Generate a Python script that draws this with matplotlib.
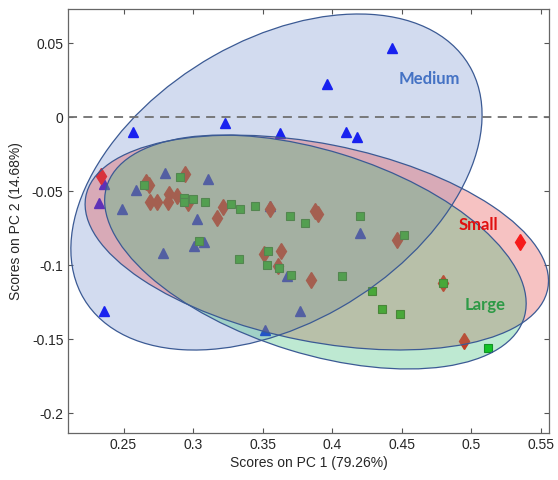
import numpy as np
import matplotlib
matplotlib.use('Agg')
import matplotlib.pyplot as plt
from matplotlib.patches import Ellipse

# Medium (blue triangles)
medium_x = [0.443, 0.396, 0.323, 0.257, 0.3625, 0.410, 0.418, 0.280, 0.3108, 0.2363,
            0.2592, 0.2327, 0.249, 0.355, 0.303, 0.3005, 0.308, 0.2784, 0.2359, 0.352,
            0.3767, 0.3678, 0.420]
medium_y = [0.047, 0.0225, -0.0036, -0.010, -0.0104, -0.0101, -0.0131, -0.0378, -0.0419, -0.045,
            -0.049, -0.058, -0.0622, -0.0597, -0.0685, -0.087, -0.0845, -0.0919, -0.1307, -0.1437,
            -0.1307, -0.107, -0.0784]

# Small (red diamonds)
small_x = [0.2337, 0.2661, 0.2685, 0.294, 0.2687, 0.274, 0.2824, 0.2885, 0.282, 0.2964,
           0.3217, 0.3173, 0.355, 0.388, 0.390, 0.4464, 0.351, 0.3635, 0.361, 0.385,
           0.5353, 0.480, 0.4947]
small_y = [-0.0395, -0.0435, -0.0457, -0.0383, -0.057, -0.0574, -0.052, -0.053, -0.0574, -0.0577,
           -0.0604, -0.0678, -0.0616, -0.0633, -0.0655, -0.0829, -0.0926, -0.0901, -0.1005, -0.110,
           -0.0843, -0.1117, -0.151]

# Large (green squares)
large_x = [0.2649, 0.2909, 0.2938, 0.2933, 0.2998, 0.3084, 0.3274, 0.3341, 0.3445, 0.3697,
           0.3805, 0.420, 0.4517, 0.304, 0.3334, 0.3538, 0.3534, 0.3618, 0.3707, 0.407,
           0.4288, 0.4358, 0.4488, 0.4796, 0.512]
large_y = [-0.0457, -0.0401, -0.0547, -0.057, -0.0554, -0.057, -0.0586, -0.062, -0.0597, -0.0665,
           -0.0716, -0.0669, -0.0795, -0.0834, -0.0955, -0.0901, -0.100, -0.102, -0.1066, -0.1072,
           -0.1172, -0.1295, -0.1329, -0.1122, -0.1557]

# confidence ellipses: Medium, Small, Large
ell_cx = [0.360, 0.389, 0.388]
ell_cy = [-0.0437, -0.0846, -0.0910]
ell_w = [0.319, 0.338, 0.313]
ell_h = [0.193, 0.1337, 0.1375]
ell_ang = [28.1, -10.5, -16.1]
ell_fill = ['#5a7dc4', '#e65050', '#3cbe78']
ell_alpha = [0.27, 0.35, 0.33]

fig = plt.figure(figsize=(5.58, 4.8), dpi=100)
ax = fig.add_axes([0.1224, 0.0973, 0.862, 0.8833])

ax.plot(medium_x, medium_y, '^', color='#0000ff', markersize=6.5, zorder=1)
ax.plot(small_x, small_y, 'd', color='#ff0000', markersize=8, zorder=1)
ax.plot(large_x, large_y, 's', color='#00c800', markeredgecolor='#007a00',
        markersize=5.2, markeredgewidth=0.8, zorder=1)

for i in range(3):
    e = Ellipse((ell_cx[i], ell_cy[i]), ell_w[i], ell_h[i], angle=ell_ang[i],
                facecolor=ell_fill[i], alpha=ell_alpha[i], edgecolor='none', zorder=2)
    ax.add_patch(e)
    e2 = Ellipse((ell_cx[i], ell_cy[i]), ell_w[i], ell_h[i], angle=ell_ang[i],
                 facecolor='none', edgecolor='#3b5a94', linewidth=0.9, zorder=3)
    ax.add_patch(e2)

ax.axhline(0, color='#707070', linestyle=(0, (5, 3.5)), linewidth=1.3, zorder=4)

ax.text(0.4697, 0.0259, 'Medium', color='#4472c4', fontsize=12, fontweight='bold',
        family='Lato', ha='center', va='center', zorder=5)
ax.text(0.505, -0.0728, 'Small', color='#e01010', fontsize=12, fontweight='bold',
        family='Lato', ha='center', va='center', zorder=5)
ax.text(0.510, -0.1268, 'Large', color='#2e9a46', fontsize=12, fontweight='bold',
        family='Lato', ha='center', va='center', zorder=5)

ax.set_xlim(0.2103, 0.5562)
ax.set_ylim(-0.2135, 0.073)
ax.set_xticks([0.25, 0.3, 0.35, 0.4, 0.45, 0.5, 0.55])
ax.set_xticklabels(['0.25', '0.3', '0.35', '0.4', '0.45', '0.5', '0.55'])
ax.set_yticks([0.05, 0, -0.05, -0.1, -0.15, -0.2])
ax.set_yticklabels(['0.05', '0', '-0.05', '-0.1', '-0.15', '-0.2'])
ax.tick_params(direction='in', top=True, right=True, length=3.5, width=0.8,
               color='#555555', labelsize=10, labelcolor='#262626')
for lab in ax.get_xticklabels() + ax.get_yticklabels():
    lab.set_family('Liberation Sans')
for s in ax.spines.values():
    s.set_color('#666666')
    s.set_linewidth(0.9)

ax.set_xlabel('Scores on PC 1 (79.26%)', fontsize=10, family='Liberation Sans',
              color='#262626', labelpad=3)
ax.set_ylabel('Scores on PC 2 (14.68%)', fontsize=10, family='Liberation Sans',
              color='#262626', labelpad=6)

fig.savefig('out.png', dpi=100)
